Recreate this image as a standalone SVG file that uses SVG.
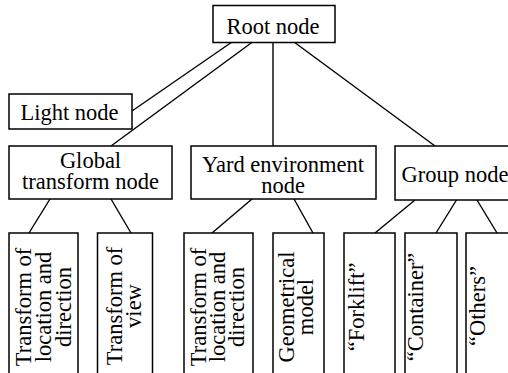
<svg xmlns="http://www.w3.org/2000/svg" width="508" height="373" viewBox="0 0 508 373">
  <style>
    .box { fill: #fff; stroke: #000; stroke-width: 1.5; }
    .edge { stroke: #000; stroke-width: 1.4; fill: none; }
    text { font-family: 'Liberation Serif', 'DejaVu Serif', serif; font-size: 22.5px; fill: #000; text-anchor: middle; }
  </style>
  <rect width="508" height="373" fill="#fff"/>

  <!-- connectors -->
  <g id="connectors">
    <line class="edge" x1="232" y1="42" x2="132" y2="111"/>
    <line class="edge" x1="252.5" y1="42" x2="111" y2="146"/>
    <line class="edge" x1="273" y1="42" x2="273" y2="146"/>
    <line class="edge" x1="294" y1="42" x2="435" y2="146"/>
    <line class="edge" x1="50" y1="199" x2="29" y2="233"/>
    <line class="edge" x1="111" y1="199" x2="131" y2="233"/>
    <line class="edge" x1="252" y1="199" x2="212" y2="233"/>
    <line class="edge" x1="294" y1="199" x2="313" y2="233"/>
    <line class="edge" x1="415" y1="200" x2="375" y2="233"/>
    <line class="edge" x1="456.5" y1="200" x2="436" y2="233"/>
    <line class="edge" x1="477" y1="200" x2="497" y2="233"/>
  </g>

  <g id="root">
    <rect class="box" x="213" y="5.5" width="122" height="37"/>
    <text x="273" y="34" font-family="Liberation Serif">Root node</text>
  </g>

  <g id="light">
    <rect class="box" x="9" y="94" width="123" height="35"/>
    <text x="69.5" y="120">Light node</text>
  </g>

  <g id="global">
    <rect class="box" x="9" y="146" width="163" height="53"/>
    <text x="90.5" y="168">Global</text>
    <text x="90.5" y="189">transform node</text>
  </g>

  <g id="yard">
    <rect class="box" x="191" y="146" width="185" height="53"/>
    <text x="283" y="172">Yard environment</text>
    <text x="283" y="193">node</text>
  </g>

  <g id="group">
    <rect class="box" x="395" y="146" width="126" height="54"/>
    <text x="455" y="182">Group node</text>
  </g>

  <g id="global-location">
    <rect class="box" x="9" y="233" width="69" height="150"/>
    <text transform="translate(31 307) rotate(-90)">Transform of</text>
    <text transform="translate(51 307) rotate(-90)">location and</text>
    <text transform="translate(70.5 307) rotate(-90)">direction</text>
  </g>

  <g id="global-view">
    <rect class="box" x="97.5" y="233" width="55" height="150"/>
    <text transform="translate(122 306) rotate(-90)">Transform of</text>
    <text transform="translate(141 306) rotate(-90)">view</text>
  </g>

  <g id="yard-location">
    <rect class="box" x="184" y="233" width="69" height="150"/>
    <text transform="translate(206 307) rotate(-90)">Transform of</text>
    <text transform="translate(225 307) rotate(-90)">location and</text>
    <text transform="translate(244 307) rotate(-90)">direction</text>
  </g>

  <g id="yard-model">
    <rect class="box" x="273" y="233" width="51" height="150"/>
    <text transform="translate(294 307) rotate(-90)">Geometrical</text>
    <text transform="translate(313 307) rotate(-90)">model</text>
  </g>

  <g id="forklift">
    <rect class="box" x="344" y="233" width="51" height="150"/>
    <text transform="translate(364 307) rotate(-90)">“Forklift”</text>
  </g>

  <g id="container">
    <rect class="box" x="405" y="233" width="52" height="150"/>
    <text transform="translate(423 307) rotate(-90)">“Container”</text>
  </g>

  <g id="others">
    <rect class="box" x="466" y="233" width="55" height="150"/>
    <text transform="translate(485 306) rotate(-90)">“Others”</text>
  </g>
</svg>
